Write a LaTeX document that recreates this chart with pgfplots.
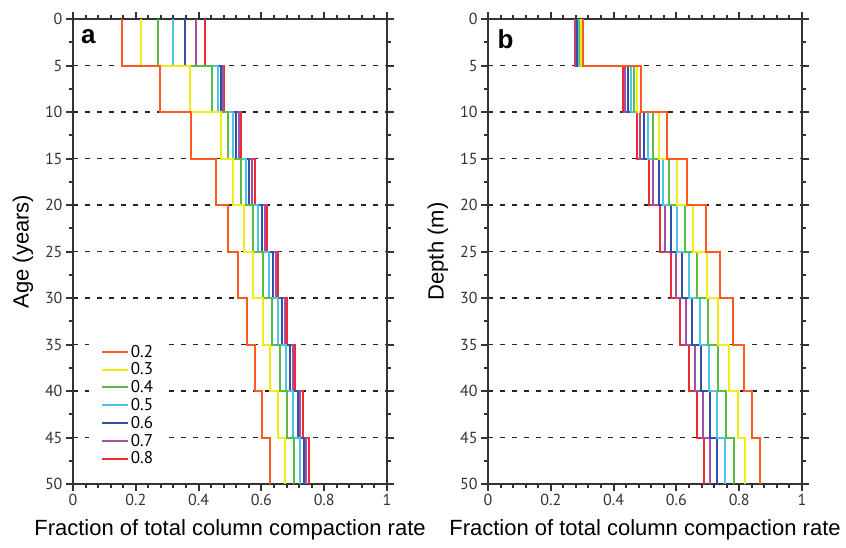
\documentclass[border=0pt]{standalone}
\usepackage{fontspec}
\setmainfont{Liberation Sans}
\newfontfamily\tickfont{PT Sans}
\usepackage{pgfplots}
\usepackage{pgfplotstable}
\pgfplotsset{compat=1.18}

\definecolor{c2}{HTML}{FF5A1F}
\definecolor{c3}{HTML}{F0EC14}
\definecolor{c4}{HTML}{5CBB47}
\definecolor{c5}{HTML}{4DC6E6}
\definecolor{c6}{HTML}{3450A6}
\definecolor{c7}{HTML}{A24FA6}
\definecolor{c8}{HTML}{EE2A32}
\definecolor{axgray}{HTML}{333333}

% step profiles: each 5-unit interval has one value, listed at both ends
\pgfplotstableread{
y  s2    s3    s4    s5    s6    s7    s8
0  0.156 0.217 0.270 0.317 0.358 0.393 0.419
5  0.156 0.217 0.270 0.317 0.358 0.393 0.419
5  0.278 0.372 0.444 0.461 0.472 0.477 0.482
10 0.278 0.372 0.444 0.461 0.472 0.477 0.482
10 0.376 0.470 0.494 0.510 0.520 0.528 0.536
15 0.376 0.470 0.494 0.510 0.520 0.528 0.536
15 0.454 0.509 0.536 0.552 0.562 0.571 0.579
20 0.454 0.509 0.536 0.552 0.562 0.571 0.579
20 0.494 0.543 0.574 0.590 0.603 0.610 0.618
25 0.494 0.543 0.574 0.590 0.603 0.610 0.618
25 0.525 0.574 0.605 0.624 0.637 0.645 0.653
30 0.525 0.574 0.605 0.624 0.637 0.645 0.653
30 0.555 0.604 0.634 0.653 0.665 0.674 0.683
35 0.555 0.604 0.634 0.653 0.665 0.674 0.683
35 0.579 0.628 0.658 0.679 0.691 0.701 0.708
40 0.579 0.628 0.658 0.679 0.691 0.701 0.708
40 0.603 0.653 0.683 0.701 0.715 0.723 0.731
45 0.603 0.653 0.683 0.701 0.715 0.723 0.731
45 0.627 0.675 0.704 0.723 0.736 0.743 0.751
50 0.627 0.675 0.704 0.723 0.736 0.743 0.751
}\dataA

\pgfplotstableread{
y  s2    s3    s4    s5    s6    s7    s8
0  0.301 0.297 0.293 0.289 0.285 0.281 0.277
5  0.301 0.297 0.293 0.289 0.285 0.281 0.277
5  0.487 0.475 0.465 0.454 0.445 0.437 0.430
10 0.487 0.475 0.465 0.454 0.445 0.437 0.430
10 0.569 0.543 0.526 0.511 0.497 0.485 0.473
15 0.569 0.543 0.526 0.511 0.497 0.485 0.473
15 0.635 0.603 0.578 0.558 0.543 0.527 0.513
20 0.635 0.603 0.578 0.558 0.543 0.527 0.513
20 0.693 0.653 0.626 0.602 0.582 0.565 0.549
25 0.693 0.653 0.626 0.602 0.582 0.565 0.549
25 0.740 0.697 0.666 0.640 0.617 0.599 0.583
30 0.740 0.697 0.666 0.640 0.617 0.599 0.583
30 0.781 0.734 0.701 0.674 0.651 0.631 0.613
35 0.781 0.734 0.701 0.674 0.651 0.631 0.613
35 0.814 0.769 0.732 0.703 0.679 0.659 0.639
40 0.814 0.769 0.732 0.703 0.679 0.659 0.639
40 0.841 0.795 0.759 0.730 0.706 0.686 0.665
45 0.841 0.795 0.759 0.730 0.706 0.686 0.665
45 0.865 0.820 0.784 0.755 0.730 0.708 0.689
50 0.865 0.820 0.784 0.755 0.730 0.708 0.689
}\dataB

\pgfplotsset{
  panel/.style={
    width=314pt, height=465pt, scale only axis,
    anchor=south west,
    xmin=0, xmax=1, ymin=0, ymax=50,
    y dir=reverse,
    xtick={0,0.2,0.4,0.6,0.8,1},
    xticklabels={0,0.2,0.4,0.6,0.8,1},
    ytick={0,5,...,50},
    /pgf/number format/assume math mode=true,
    minor x tick num=4,
    minor y tick num=1,
    xticklabel pos=lower, yticklabel pos=left,
    xtick pos=both, ytick pos=both,
    tick align=outside,
    major tick length=7pt, minor tick length=4pt,
    every tick/.style={axgray, line width=2pt},
    axis line style={axgray, line width=2.5pt},
    ticklabel style={font=\tickfont\fontsize{16}{16}\selectfont, text=axgray},
    ymajorgrids,
    major grid style={black!85, line width=1.4pt, dash pattern=on 5pt off 7pt},
    xlabel={Fraction of total column compaction rate},
    xlabel style={at={(axis description cs:0.5,0)}, anchor=center, yshift=-46pt,
      font=\fontsize{22}{22}\selectfont},
    ylabel style={at={([xshift=-50pt]axis description cs:0,0.5)}, anchor=center,
      font=\fontsize{22}{22}\selectfont},
    every axis plot/.append style={line width=2pt},
  },
}

\begin{document}
\begin{tikzpicture}
\useasboundingbox (0,0) rectangle (846pt,547pt);

\begin{axis}[panel, at={(73pt,63pt)},
    ylabel={Age (years)},
    reverse legend,
    legend style={at={(axis description cs:0.05,0.31)}, anchor=north west,
      draw=none, fill=white, inner xsep=12pt, inner ysep=3pt,
      font=\tickfont\fontsize{17}{17}\selectfont, row sep=0.2pt,
      legend cell align=left},
    legend image code/.code={\draw[#1] (0pt,0pt) -- (26pt,0pt);},
  ]
  \addplot[c8] table[x=s8, y=y] {\dataA};
  \addplot[c7] table[x=s7, y=y] {\dataA};
  \addplot[c6] table[x=s6, y=y] {\dataA};
  \addplot[c5] table[x=s5, y=y] {\dataA};
  \addplot[c4] table[x=s4, y=y] {\dataA};
  \addplot[c3] table[x=s3, y=y] {\dataA};
  \addplot[c2] table[x=s2, y=y] {\dataA};
  \legend{0.8,0.7,0.6,0.5,0.4,0.3,0.2}
  \node[anchor=north west, inner sep=0pt, font=\bfseries\fontsize{26}{26}\selectfont]
    at (axis description cs:0.025,0.978) {a};
\end{axis}

\begin{axis}[panel, at={(488pt,63pt)},
    ylabel={Depth (m)},
  ]
  \addplot[c8] table[x=s8, y=y] {\dataB};
  \addplot[c7] table[x=s7, y=y] {\dataB};
  \addplot[c6] table[x=s6, y=y] {\dataB};
  \addplot[c5] table[x=s5, y=y] {\dataB};
  \addplot[c4] table[x=s4, y=y] {\dataB};
  \addplot[c3] table[x=s3, y=y] {\dataB};
  \addplot[c2] table[x=s2, y=y] {\dataB};
  \node[anchor=north west, inner sep=0pt, font=\bfseries\fontsize{26}{26}\selectfont]
    at (axis description cs:0.03,0.978) {b};
\end{axis}
\end{tikzpicture}
\end{document}
